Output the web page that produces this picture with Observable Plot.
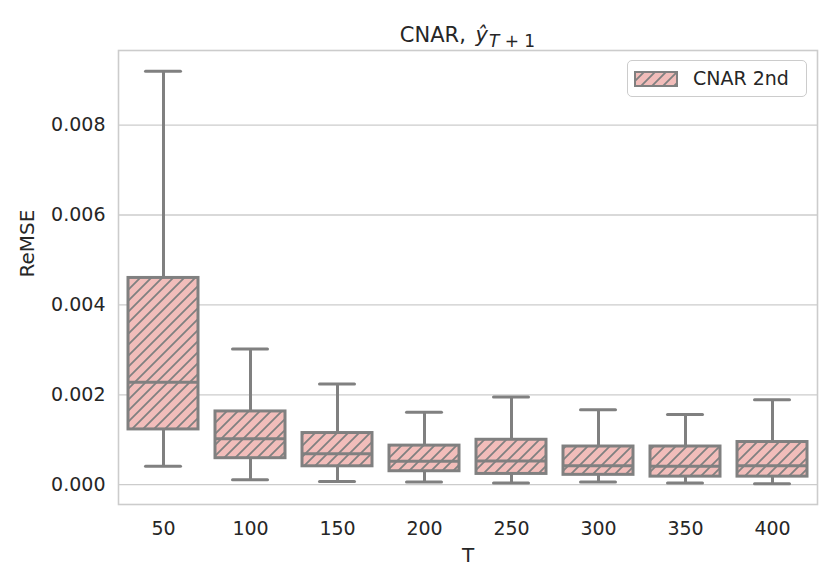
<!DOCTYPE html>
<html>
<head>
<meta charset="utf-8">
<script src="https://cdn.jsdelivr.net/npm/d3@7"></script>
<script src="https://cdn.jsdelivr.net/npm/@observablehq/plot@0.6"></script>
<style>
  html, body { margin: 0; padding: 0; background: #fff; }
  #wrap { position: relative; width: 832px; height: 583px; font-family: "DejaVu Sans", sans-serif; color: #262626; }
  #title { position: absolute; top: 22px; left: 118px; width: 699px; text-align: center; font-size: 21px; line-height: 26px; }
  #title i.y { margin-left: 3px; }
  #title sub { font-size: 17px; vertical-align: -5px; margin-left: 1px; }
  #legend { position: absolute; left: 627px; top: 60px; width: 180px; height: 37px; border: 1px solid #cccccc; border-radius: 5px; background: rgba(255,255,255,0.8); box-sizing: border-box; }
  #legend svg { position: absolute; left: 6px; top: 10px; }
  #legend span { position: absolute; left: 65px; top: 5px; font-size: 19px; line-height: 24px; }
</style>
</head>
<body>
<svg width="0" height="0" style="position:absolute">
  <defs>
    <pattern id="hatch" patternUnits="userSpaceOnUse" width="11" height="11">
      <rect width="11" height="11" fill="#f2bdba"></rect>
      <path d="M0,11 L11,0 M-2.75,2.75 L2.75,-2.75 M8.25,13.75 L13.75,8.25" stroke="#808080" stroke-width="1.8"></path>
    </pattern>
  </defs>
</svg>
<div id="wrap">
  <div id="title">CNAR, <i class="y">ŷ</i><sub><i>T</i> + 1</sub></div>
  <div id="legend">
    <svg width="44" height="16"><rect x="1" y="1" width="42" height="14" fill="url(#hatch)" stroke="#808080" stroke-width="2"></rect></svg>
    <span>CNAR 2nd</span>
  </div>
</div>
<script>
const T = ["50", "100", "150", "200", "250", "300", "350", "400"];
const whiskerLow  = [0.00041, 0.00011, 0.00007, 0.00006, 0.00004, 0.00006, 0.00004, 0.00002];
const q1          = [0.00123, 0.00059, 0.00041, 0.00030, 0.00024, 0.00022, 0.00018, 0.00018];
const median      = [0.00228, 0.00102, 0.00069, 0.00052, 0.00053, 0.00042, 0.00041, 0.00042];
const q3          = [0.00460, 0.00163, 0.00115, 0.00087, 0.00100, 0.00085, 0.00085, 0.00095];
const whiskerHigh = [0.00920, 0.00302, 0.00224, 0.00161, 0.00195, 0.00167, 0.00156, 0.00189];
const yTicks = [0, 0.002, 0.004, 0.006, 0.008];

const rows = T.map((t, i) => ({T: t, lo: whiskerLow[i], q1: q1[i], med: median[i], q3: q3[i], hi: whiskerHigh[i]}));
const gray = "#808080";

const chart = Plot.plot({
  width: 832,
  height: 583,
  marginLeft: 118,
  marginRight: 15,
  marginTop: 50,
  marginBottom: 79,
  style: {fontFamily: "DejaVu Sans, sans-serif", fontSize: "19px", color: "#262626", background: "white"},
  x: {type: "band", domain: T, paddingInner: 0.2, paddingOuter: 0.1, label: null},
  y: {domain: [-0.00044, 0.00966], label: null},
  marks: [
    Plot.ruleY(yTicks, {stroke: "#cccccc", strokeWidth: 1.3}),
    Plot.axisY({ticks: yTicks, tickFormat: d3.format(".3f"), tickSize: 0, tickPadding: 13, label: null}),
    Plot.axisX({tickSize: 0, tickPadding: 17, label: null}),
    Plot.text(["ReMSE"], {frameAnchor: "left", dx: -91, rotate: -90, fontSize: 20}),
    Plot.text(["T"], {frameAnchor: "bottom", dy: 57, fontSize: 20}),
    Plot.ruleX(rows, {x: "T", y1: "lo", y2: "q1", stroke: gray, strokeWidth: 3}),
    Plot.ruleX(rows, {x: "T", y1: "q3", y2: "hi", stroke: gray, strokeWidth: 3}),
    Plot.barY(rows, {x: "T", y1: "q1", y2: "q3", fill: "url(#hatch)", stroke: gray, strokeWidth: 3, insetLeft: 0, insetRight: 0}),
    Plot.tickY(rows, {x: "T", y: "med", stroke: gray, strokeWidth: 3}),
    Plot.tickY(rows, {x: "T", y: "lo", stroke: gray, strokeWidth: 3, insetLeft: 17.5, insetRight: 17.5, strokeLinecap: "round"}),
    Plot.tickY(rows, {x: "T", y: "hi", stroke: gray, strokeWidth: 3, insetLeft: 17.5, insetRight: 17.5, strokeLinecap: "round"}),
    Plot.frame({stroke: "#cccccc", strokeWidth: 1.6})
  ]
});
const wrap = document.getElementById("wrap");
chart.style.position = "absolute";
chart.style.left = "0";
chart.style.top = "0";
wrap.insertBefore(chart, wrap.firstChild);
</script>
</body>
</html>
